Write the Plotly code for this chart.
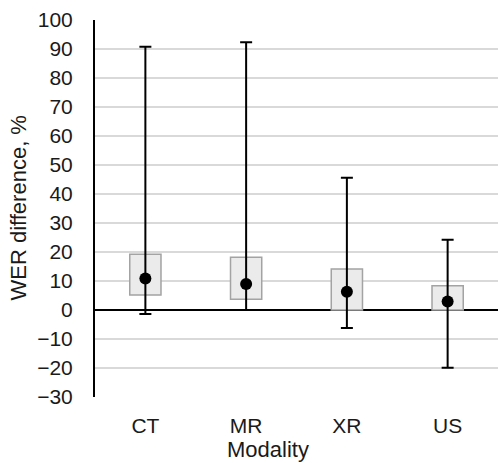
import plotly.graph_objects as go

categories = ["CT", "MR", "XR", "US"]
q_low = [5.2, 3.7, 0.0, 0.0]
q_high = [19.2, 18.2, 14.1, 8.4]
centre = [10.9, 9.0, 6.3, 2.9]
w_min = [-1.4, 0.0, -6.2, -19.9]
w_max = [90.8, 92.3, 45.6, 24.2]
y_ticks = list(range(-30, 101, 10))

fig = go.Figure()
fig.add_trace(go.Bar(
    x=categories,
    y=[h - l for h, l in zip(q_high, q_low)],
    base=q_low,
    width=0.31,
    marker=dict(color="#ebebeb", line=dict(color="#a3a3a3", width=1.5)),
    showlegend=False,
))
fig.add_trace(go.Scatter(
    x=categories,
    y=centre,
    mode="markers",
    marker=dict(color="black", size=12),
    error_y=dict(
        type="data",
        symmetric=False,
        array=[mx - c for mx, c in zip(w_max, centre)],
        arrayminus=[c - mn for mn, c in zip(w_min, centre)],
        color="black",
        thickness=2,
        width=6,
    ),
    showlegend=False,
))

font = "Liberation Sans, Arial, sans-serif"
fig.update_layout(
    width=498, height=463,
    margin=dict(l=95, r=0, t=20, b=66),
    paper_bgcolor="white", plot_bgcolor="white",
    font=dict(family=font, size=21, color="#1a1a1a"),
    xaxis=dict(
        range=[-0.5, 3.5], showgrid=False, ticks="", showline=False,
        ticklabelstandoff=14, tickfont=dict(size=21),
    ),
    yaxis=dict(
        range=[-30, 100], tickvals=y_ticks, ticks="",
        showgrid=True, gridcolor="#d9d9d9", gridwidth=1.5,
        zeroline=True, zerolinecolor="black", zerolinewidth=2,
        showline=True, linecolor="black", linewidth=2,
        ticklabelstandoff=16, tickfont=dict(size=21),
    ),
    annotations=[
        dict(text="WER difference, %", xref="paper", yref="paper",
             x=-0.191, y=0.5, xanchor="center", yanchor="middle",
             textangle=-90, showarrow=False, font=dict(size=22)),
        dict(text="Modality", xref="paper", yref="paper",
             x=0.429, y=-0.138, xanchor="center", yanchor="middle",
             showarrow=False, font=dict(size=22)),
    ],
)

fig.write_html("out.html",
               config={"displayModeBar": False},
               post_script="document.body.style.margin='0';document.body.style.overflow='hidden';")
